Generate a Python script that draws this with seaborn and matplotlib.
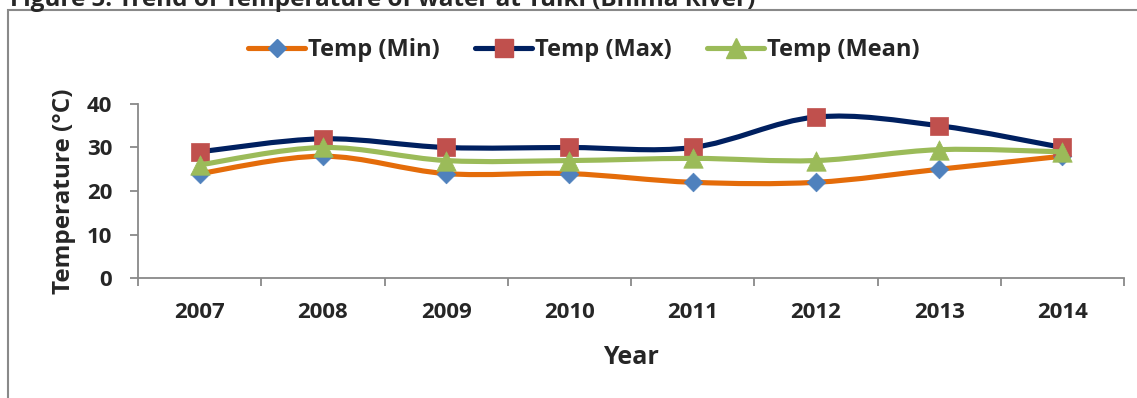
import numpy as np
import seaborn as sns
import matplotlib.pyplot as plt
from matplotlib.path import Path
from matplotlib.patches import PathPatch, Rectangle
from matplotlib.lines import Line2D

# values
years = ["2007", "2008", "2009", "2010", "2011", "2012", "2013", "2014"]
temp_min = [24, 28, 24, 24, 22, 22, 25, 28]
temp_max = [29, 32, 30, 30, 30, 37, 35, 30]
temp_mean = [26, 30, 27, 27, 27.5, 27, 29.5, 29]

series = [
    ("Temp (Min)", temp_min, "#E46C0A", "#4F81BD", "D", 9.5),
    ("Temp (Max)", temp_max, "#002060", "#C0504D", "s", 12.5),
    ("Temp (Mean)", temp_mean, "#9BBB59", "#9BBB59", "^", 14),
]

sns.set_theme(style="white")
plt.rcParams["font.family"] = ["Open Sans", "DejaVu Sans"]
plt.rcParams["font.weight"] = "bold"


def smooth_path(xs, ys):
    # Excel-like smoothed line: Catmull-Rom segments as cubic Beziers
    pts = np.column_stack([xs, ys]).astype(float)
    n = len(pts)
    verts = [pts[0]]
    codes = [Path.MOVETO]
    for i in range(n - 1):
        p0 = pts[max(i - 1, 0)]
        p1 = pts[i]
        p2 = pts[i + 1]
        p3 = pts[min(i + 2, n - 1)]
        verts += [p1 + (p2 - p0) / 6, p2 - (p3 - p1) / 6, p2]
        codes += [Path.CURVE4] * 3
    return Path(verts, codes)


fig = plt.figure(figsize=(11.37, 3.98), dpi=100)
ax = fig.add_axes([0.1214, 0.3015, 0.8672, 0.4372])

x = np.arange(len(years))
handles = []
for k, (name, vals, lcol, mcol, mk, ms) in enumerate(series):
    ax.add_patch(PathPatch(smooth_path(x, vals), facecolor="none", edgecolor=lcol,
                           lw=3.7, capstyle="round", zorder=2 + 2 * k))
    sns.scatterplot(x=x, y=vals, marker=mk, s=ms ** 2, color=mcol, edgecolor=mcol,
                    linewidth=0.5, ax=ax, zorder=3 + 2 * k, legend=False)
    handles.append(Line2D([], [], color=lcol, lw=3.7, marker=mk, markersize=ms,
                          markerfacecolor=mcol, markeredgecolor=mcol))

ax.set_xlim(-0.5, len(years) - 0.5)
ax.set_ylim(0, 40)
ax.set_yticks([0, 10, 20, 30, 40])
ax.set_xticks(x)
ax.set_xticklabels(years)
ax.set_xticks(np.arange(-0.5, len(years)), minor=True)

for side in ["top", "right"]:
    ax.spines[side].set_visible(False)
for side in ["left", "bottom"]:
    ax.spines[side].set_color("#898989")
    ax.spines[side].set_linewidth(1.3)

ax.tick_params(axis="y", which="major", direction="out", length=5.5, width=1.3,
               color="#898989", left=True, labelsize=16, pad=13)
ax.tick_params(axis="x", which="major", length=0, labelsize=16, pad=17)
ax.tick_params(axis="x", which="minor", direction="out", length=6, width=1.3,
               color="#898989", bottom=True)
for lab in ax.get_xticklabels() + ax.get_yticklabels():
    lab.set_fontweight("bold")

ax.set_ylabel("Temperature (°C)", fontsize=17.5, fontweight="bold", labelpad=8)
ax.set_xlabel("Year", fontsize=18, fontweight="bold", labelpad=16)

fig.legend(handles, [s[0] for s in series], loc="center", ncol=3,
           bbox_to_anchor=(0.5136, 0.874), frameon=False, handlelength=2.4,
           handletextpad=0.13, columnspacing=1.5, prop={"size": 17, "weight": "bold"})

# chart-area border and the clipped figure caption
fig.patches.append(Rectangle((8 / 1137, -0.1), 1.2, 1 - 10 / 398 + 0.1,
                             transform=fig.transFigure, fill=False,
                             edgecolor="#898989", lw=1.5))
fig.text(10 / 1137, 1 - 6 / 398, "Figure 5: Trend of Temperature of water at Tulki (Bhima River)",
         fontsize=17.5, fontweight="bold", va="baseline", ha="left")

fig.savefig("out.png", dpi=100)
